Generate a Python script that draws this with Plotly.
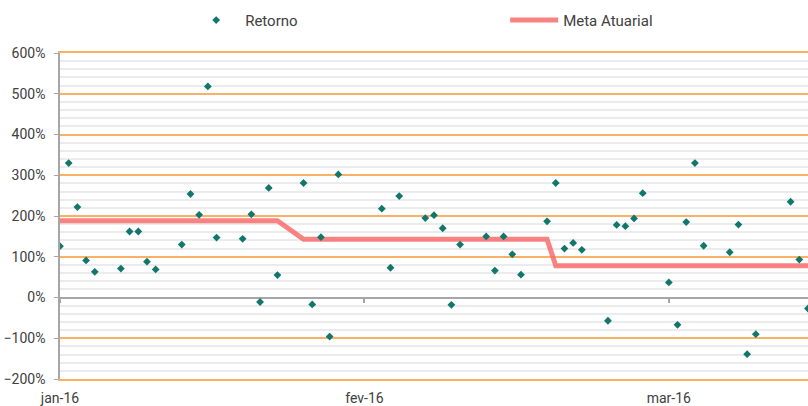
import plotly.graph_objects as go

dates = [
    "2016-01-04", "2016-01-05", "2016-01-06", "2016-01-07", "2016-01-08",
    "2016-01-11", "2016-01-12", "2016-01-13", "2016-01-14", "2016-01-15",
    "2016-01-18", "2016-01-19", "2016-01-20", "2016-01-21", "2016-01-22",
    "2016-01-25", "2016-01-26", "2016-01-27", "2016-01-28", "2016-01-29",
    "2016-02-01", "2016-02-02", "2016-02-03", "2016-02-04", "2016-02-05",
    "2016-02-10", "2016-02-11", "2016-02-12",
    "2016-02-15", "2016-02-16", "2016-02-17", "2016-02-18", "2016-02-19",
    "2016-02-22", "2016-02-23", "2016-02-24", "2016-02-25", "2016-02-26",
    "2016-02-29", "2016-03-01", "2016-03-02", "2016-03-03", "2016-03-04",
    "2016-03-07", "2016-03-08", "2016-03-09", "2016-03-10", "2016-03-11",
    "2016-03-14", "2016-03-15", "2016-03-16", "2016-03-17", "2016-03-18",
    "2016-03-21", "2016-03-22", "2016-03-23", "2016-03-24",
    "2016-03-28", "2016-03-29", "2016-03-30",
]

retorno = [
    1.26, 3.30, 2.22, 0.91, 0.63,
    0.71, 1.62, 1.62, 0.88, 0.69,
    1.30, 2.54, 2.03, 5.18, 1.47,
    1.44, 2.04, -0.11, 2.69, 0.55,
    2.81, -0.17, 1.48, -0.96, 3.02,
    2.18, 0.73, 2.49,
    1.95, 2.02, 1.70, -0.18, 1.30,
    1.50, 0.66, 1.50, 1.06, 0.56,
    1.87, 2.81, 1.20, 1.34, 1.17,
    -0.57, 1.78, 1.75, 1.94, 2.56,
    0.37, -0.67, 1.85, 3.30, 1.27,
    1.11, 1.79, -1.39, -0.90,
    2.35, 0.93, -0.27,
]

meta_atuarial = [1.885] * 20 + [1.43] * 19 + [0.78] * 21

tick_dates = ["2016-01-04", "2016-02-08", "2016-03-14"]
tick_labels = ["jan-16", "fev-16", "mar-16"]

FONT = "Roboto"
TXT = "#404040"
ORANGE = "#F9B265"
GRAY = "#A6A6A6"

fig = go.Figure()

fig.add_trace(go.Scatter(
    x=dates, y=meta_atuarial, mode="lines", name="Meta Atuarial",
    line=dict(color="rgba(248,108,108,0.85)", width=5),
    legendrank=2, hoverinfo="skip",
))
fig.add_trace(go.Scatter(
    x=dates, y=retorno, mode="markers", name="Retorno",
    marker=dict(symbol="diamond", size=6, color="#11766B"),
    legendrank=1,
))
# invisible trace carrying the zero-crossing axis with tick marks
fig.add_trace(go.Scatter(
    x=dates, y=retorno, mode="markers", xaxis="x2",
    marker=dict(opacity=0), showlegend=False, hoverinfo="skip",
))

fig.update_layout(
    width=808, height=406,
    margin=dict(l=60, r=0, t=53, b=27, autoexpand=False),
    paper_bgcolor="white", plot_bgcolor="white",
    font=dict(family=FONT, size=14, color=TXT),
    showlegend=True,
    legend=dict(
        orientation="h", x=0.17, xanchor="left",
        yref="container", y=0.95, yanchor="middle",
        font=dict(family=FONT, size=15, color=TXT),
        itemwidth=48, entrywidth=255, entrywidthmode="pixels",
        bgcolor="rgba(0,0,0,0)",
    ),
    xaxis=dict(
        type="date", range=["2016-01-04", "2016-03-30"], automargin=False,
        tickvals=tick_dates, ticktext=tick_labels,
        showgrid=False, zeroline=False,
        showline=True, linecolor=ORANGE, linewidth=2, mirror=True,
        ticks="", ticklabelstandoff=5,
        tickfont=dict(family=FONT, size=14, color=TXT),
    ),
    xaxis2=dict(
        type="date", overlaying="x", matches="x", anchor="free", position=0.25,
        tickvals=tick_dates, ticktext=tick_labels, automargin=False,
        showticklabels=False, showgrid=False, zeroline=False, showline=False,
        ticks="outside", ticklen=4, tickcolor=GRAY, tickwidth=1.5,
    ),
    yaxis=dict(
        range=[-2, 6], dtick=1, tick0=0, tickformat=".0%", automargin=False,
        showgrid=True, gridcolor=ORANGE, gridwidth=2,
        minor=dict(dtick=0.2, tick0=0, showgrid=True, gridcolor="#EBEBEB", gridwidth=1.5),
        zeroline=True, zerolinecolor=GRAY, zerolinewidth=1.5,
        showline=True, linecolor=GRAY, linewidth=1.5,
        ticks="outside", ticklen=4, tickcolor=GRAY, tickwidth=1,
        ticklabelstandoff=6,
        tickfont=dict(family=FONT, size=14, color=TXT),
    ),
)

fig.write_html(
    "out.html",
    config={"displayModeBar": False},
    post_script="document.body.style.margin='0';document.body.style.overflow='hidden';",
)
